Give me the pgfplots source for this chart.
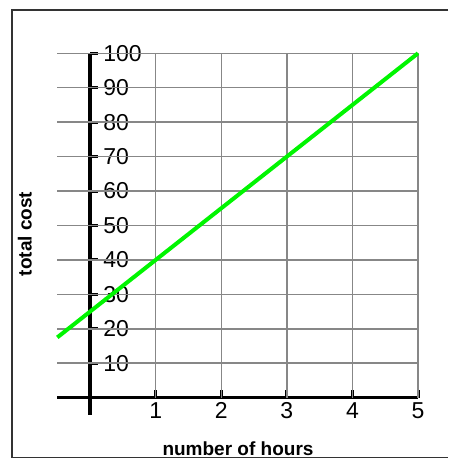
\documentclass[border=0pt]{standalone}
\usepackage{fontspec}
\setmainfont{Liberation Sans}
\usepackage{pgfplots}
\pgfplotsset{compat=1.18}
\definecolor{brightgreen}{RGB}{0,245,0}
\definecolor{gridgray}{RGB}{135,135,135}
\begin{document}
\begin{tikzpicture}
\draw[line width=1.5pt, black!80] (448pt,450pt) -- (12pt,450pt) -- (12pt,2.3pt) -- (448pt,2.3pt);
\begin{axis}[
  at={(57.3pt,45.1pt)}, anchor=south west,
  scale only axis, width=360.7pt, height=361.6pt,
  xmin=-0.5, xmax=5, ymin=-5, ymax=100,
  clip=false,
  axis x line=middle, axis y line=middle,
  axis line style={line width=3.5pt, -, black},
  xtick={1,2,3,4,5}, ytick={10,20,...,100},
  tick align=inside,
  major tick length=8pt,
  every tick/.style={line width=3pt, black},
  /pgf/number format/assume math mode=true,
  tick label style={font=\fontsize{23}{26}\selectfont, inner sep=0pt},
  yticklabel style={anchor=west, xshift=13pt},
  xticklabel style={anchor=north, yshift=-5pt},
]
\pgfplotsinvokeforeach{10,20,30,40,50,60,70,80,90,100}{
  \addplot[gridgray, line width=1.5pt] coordinates {(-0.5,#1) (5,#1)};
}
\pgfplotsinvokeforeach{1,2,3,4,5}{
  \addplot[gridgray, line width=1.5pt] coordinates {(#1,0) (#1,100)};
}
\addplot[brightgreen, line width=4pt] coordinates {(-0.5,17.5) (5,100)};
\end{axis}
\node[rotate=90, anchor=base, font=\bfseries\fontsize{19}{22}\selectfont] at (31.7pt,226pt) {total cost};
\node[anchor=base, font=\bfseries\fontsize{19}{22}\selectfont] at (238pt,5pt) {number of hours};
\pgfresetboundingbox
\path (0,0) rectangle (448pt,460pt);
\end{tikzpicture}
\end{document}
